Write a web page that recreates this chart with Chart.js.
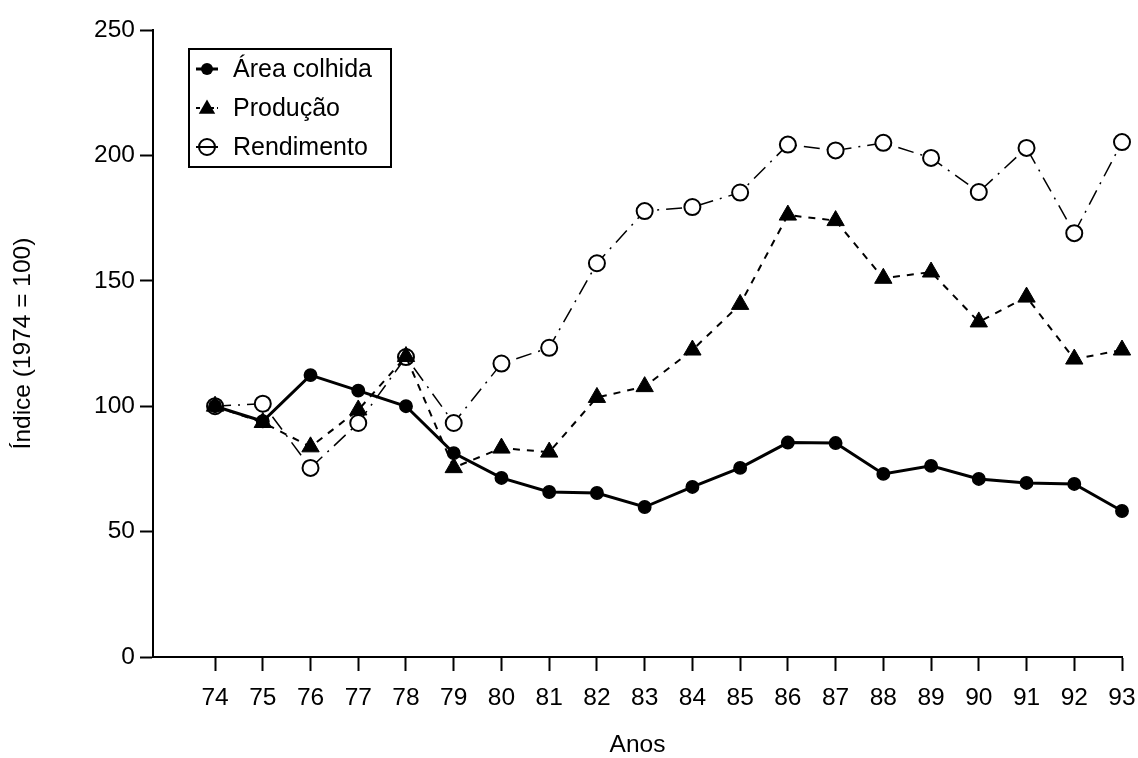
<!DOCTYPE html>
<html>
<head>
<meta charset="utf-8">
<title>Índice de área colhida, produção e rendimento</title>
<script src="https://cdn.jsdelivr.net/npm/chart.js@4/dist/chart.umd.min.js"></script>
<style>
  html, body { margin: 0; padding: 0; background: #ffffff; }
  #wrap { width: 1138px; height: 758px; }
</style>
</head>
<body>
<div id="wrap"><canvas id="chart" width="1138" height="758"></canvas></div>
<script>
// Anos (19xx) e índices com base 1974 = 100
const anos = [74, 75, 76, 77, 78, 79, 80, 81, 82, 83, 84, 85, 86, 87, 88, 89, 90, 91, 92, 93];
const areaColhida = [100, 94, 112.4, 106.2, 100, 81.3, 71.4, 65.8, 65.4, 59.8, 67.8, 75.4, 85.5, 85.3, 73, 76.2, 71, 69.4, 69, 58.2];
const producao = [100, 93.5, 83.8, 98.5, 119.8, 75.5, 83.3, 81.7, 103.5, 107.8, 122.4, 140.6, 176.2, 174, 151, 153.5, 133.6, 143.5, 118.8, 122.4];
const rendimento = [100, 101, 75.4, 93.3, 119.6, 93.3, 117, 123.3, 157, 177.8, 179.4, 185.2, 204.3, 202, 205, 199, 185.4, 203, 169, 205.3];
const yTicks = [0, 50, 100, 150, 200, 250];

const FONT = "'Liberation Sans', Arial, Helvetica, sans-serif";
const toPoints = vals => anos.map((a, i) => ({ x: a, y: vals[i] }));

// Legenda desenhada dentro da área do gráfico, com moldura
const legendBox = {
  id: 'legendBox',
  afterDraw(chart) {
    const ctx = chart.ctx;
    const ds = chart.data.datasets;
    ctx.save();
    ctx.lineWidth = 2;
    ctx.strokeStyle = '#000';
    ctx.strokeRect(189, 49, 202, 118);
    const rows = [69, 108, 147];
    ctx.font = '25px ' + FONT;
    ctx.fillStyle = '#000';
    ctx.textBaseline = 'middle';
    ds.forEach((d, i) => {
      const y = rows[i];
      const cx = 207;
      ctx.save();
      ctx.strokeStyle = '#000';
      ctx.lineWidth = i === 0 ? 3 : 2;
      ctx.setLineDash(i === 1 ? [4, 3] : []);
      ctx.beginPath();
      ctx.moveTo(cx - 11, y);
      ctx.lineTo(cx + 11, y);
      ctx.stroke();
      ctx.setLineDash([]);
      if (i === 0) {
        ctx.beginPath();
        ctx.arc(cx, y, 6, 0, Math.PI * 2);
        ctx.fill();
      } else if (i === 1) {
        const r = 9.5;
        ctx.beginPath();
        for (let k = 0; k < 3; k++) {
          const a = k * 2 * Math.PI / 3;
          const px = cx + Math.sin(a) * r, py = y + 1 - Math.cos(a) * r;
          if (k === 0) ctx.moveTo(px, py); else ctx.lineTo(px, py);
        }
        ctx.closePath();
        ctx.fill();
      } else {
        ctx.lineWidth = 2;
        ctx.beginPath();
        ctx.arc(cx, y, 8, 0, Math.PI * 2);
        ctx.stroke();
        ctx.lineWidth = 1.5;
        ctx.beginPath();
        ctx.moveTo(cx - 5, y);
        ctx.lineTo(cx + 5, y);
        ctx.stroke();
      }
      ctx.restore();
      ctx.fillText(d.label, 233, y + 1);
    });
    ctx.restore();
  }
};

new Chart(document.getElementById('chart'), {
  type: 'line',
  data: {
    datasets: [
      {
        label: 'Área colhida',
        data: toPoints(areaColhida),
        borderColor: '#000',
        borderWidth: 3,
        pointStyle: 'circle',
        pointRadius: 6.2,
        pointBorderWidth: 1.5,
        pointBackgroundColor: '#000',
        pointBorderColor: '#000',
        tension: 0,
        clip: false
      },
      {
        label: 'Produção',
        data: toPoints(producao),
        borderColor: '#000',
        borderWidth: 2,
        borderDash: [7, 7],
        pointStyle: 'triangle',
        pointRadius: 10,
        pointBorderWidth: 1,
        pointBackgroundColor: '#000',
        pointBorderColor: '#000',
        tension: 0,
        clip: false
      },
      {
        label: 'Rendimento',
        data: toPoints(rendimento),
        borderColor: '#000',
        borderWidth: 1.5,
        borderDash: [16, 7, 2, 7],
        pointStyle: 'circle',
        pointRadius: 8,
        pointBorderWidth: 2,
        pointBackgroundColor: '#fff',
        pointBorderColor: '#000',
        tension: 0,
        clip: false
      }
    ]
  },
  options: {
    responsive: false,
    animation: false,
    devicePixelRatio: 1,
    layout: { padding: { top: 30, right: 16, left: 0, bottom: 0 } },
    plugins: { legend: { display: false }, tooltip: { enabled: false } },
    scales: {
      x: {
        type: 'linear',
        min: 72.7,
        max: 93,
        afterBuildTicks: s => { s.ticks = anos.map(v => ({ value: v })); },
        afterFit: s => { s.height = 101; s.paddingLeft = 0; s.paddingRight = 0; },
        grid: { drawOnChartArea: false, drawTicks: true, tickLength: 14, tickWidth: 2, tickColor: '#000' },
        border: { display: true, color: '#000', width: 2 },
        ticks: {
          color: '#000',
          font: { family: FONT, size: 24.5 },
          padding: 13,
          maxRotation: 0,
          autoSkip: false,
          callback: v => String(v)
        },
        title: {
          display: true,
          text: 'Anos',
          color: '#000',
          font: { family: FONT, size: 24.5, lineHeight: 1 },
          padding: { top: 0, bottom: 1 }
        }
      },
      y: {
        min: 0,
        max: 250,
        afterBuildTicks: s => { s.ticks = yTicks.map(v => ({ value: v })); },
        afterFit: s => { s.width = 153; s.paddingTop = 0; s.paddingBottom = 0; },
        grid: { drawOnChartArea: false, drawTicks: true, tickLength: 13, tickWidth: 2, tickColor: '#000' },
        border: { display: true, color: '#000', width: 2 },
        ticks: {
          color: '#000',
          font: { family: FONT, size: 24.5 },
          padding: 5
        },
        title: {
          display: true,
          text: 'Índice (1974 = 100)',
          color: '#000',
          font: { family: FONT, size: 24.5, lineHeight: 1.2 },
          padding: { top: 9, bottom: 0 }
        }
      }
    }
  },
  plugins: [legendBox]
});
</script>
</body>
</html>
